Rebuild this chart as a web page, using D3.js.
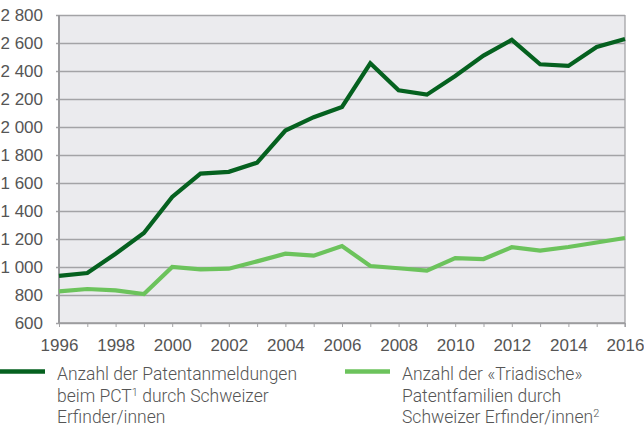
<!DOCTYPE html>
<html>
<head>
<meta charset="utf-8">
<script src="https://cdn.jsdelivr.net/npm/d3@7"></script>
<style>
  html, body { margin: 0; padding: 0; background: #fff; }
  svg { display: block; font-family: Roboto, "Open Sans", sans-serif; font-weight: 300; }
  .tick text { fill: #555; font-size: 17px; }
  .legend text { fill: #555; font-size: 17.5px; }
</style>
</head>
<body>
<svg id="chart" width="644" height="426"></svg>
<script>
const years = d3.range(1996, 2017);
const pctApplications = [936, 957, 1095, 1243, 1500, 1667, 1680, 1745, 1975, 2070, 2143, 2455, 2262, 2231, 2365, 2510, 2622, 2448, 2436, 2572, 2628];
const triadicFamilies = [826, 843, 833, 807, 1000, 983, 988, 1040, 1095, 1081, 1150, 1007, 991, 974, 1064, 1057, 1141, 1117, 1143, 1175, 1207];
const yTicks = [600, 800, 1000, 1200, 1400, 1600, 1800, 2000, 2200, 2400, 2600, 2800];
const xLabels = [1996, 1998, 2000, 2002, 2004, 2006, 2008, 2010, 2012, 2014, 2016];
const legendDark = ['Anzahl der Patentanmeldungen', ['beim PCT', '1', ' durch Schweizer'], 'Erfinder/innen'];
const legendLight = ['Anzahl der «Triadische»', 'Patentfamilien durch', ['Schweizer Erfinder/innen', '2', '']];

const svg = d3.select('#chart');
const margin = { left: 59, right: 19, top: 15, bottom: 103 };
const width = 644, height = 426;
const x = d3.scaleLinear().domain([1996, 2016]).range([margin.left, width - margin.right]);
const y = d3.scaleLinear().domain([600, 2800]).range([height - margin.bottom, margin.top]);

const grid = '#a3a3a6';
svg.append('rect').attr('x', x(1996)).attr('y', y(2800)).attr('width', x(2016) - x(1996)).attr('height', y(600) - y(2800)).attr('fill', '#ebebee');

// gridlines + y axis
const yAxis = svg.append('g').attr('transform', `translate(${x(1996)},0)`)
    .call(d3.axisLeft(y).tickValues(yTicks).tickSize(-(x(2016) - x(1996))).tickPadding(16).tickFormat(d => d3.format(',')(d).replace(',', ' ')));
yAxis.select('.domain').remove();
yAxis.selectAll('.tick line').attr('stroke', grid).attr('stroke-width', 1.3).attr('x1', -3);
yAxis.selectAll('.tick text').attr('dy', '0.35em');

// x axis
const xAxis = svg.append('g').attr('transform', `translate(0,${y(600)})`)
    .call(d3.axisBottom(x).tickValues(years).tickSize(4).tickPadding(6).tickFormat(d => xLabels.includes(d) ? d : ''));
xAxis.select('.domain').remove();
xAxis.selectAll('.tick line').attr('stroke', grid);
xAxis.selectAll('.tick text').attr('dy', 0).attr('y', 28);

// frame: left, right, bottom
svg.append('line').attr('x1', x(1996)).attr('x2', x(1996)).attr('y1', y(2800)).attr('y2', y(600)).attr('stroke', '#9a9a9d').attr('stroke-width', 2);
svg.append('line').attr('x1', x(2016)).attr('x2', x(2016)).attr('y1', y(2800)).attr('y2', y(600) + 4).attr('stroke', grid).attr('stroke-width', 1.3);
svg.append('line').attr('x1', x(1996)).attr('x2', x(2016)).attr('y1', y(600)).attr('y2', y(600)).attr('stroke', '#9a9a9d').attr('stroke-width', 1.5);

const line = d3.line().x((d, i) => x(years[i])).y(d => y(d));
svg.append('path').datum(triadicFamilies).attr('d', line).attr('fill', 'none').attr('stroke', '#6cc35c').attr('stroke-width', 4.2).attr('stroke-linejoin', 'miter');
svg.append('path').datum(pctApplications).attr('d', line).attr('fill', 'none').attr('stroke', '#05611f').attr('stroke-width', 4.2).attr('stroke-linejoin', 'miter');

// legend
const legend = svg.append('g').attr('class', 'legend');
const addLegend = (x0, x1, tx, color, lines) => {
    legend.append('line').attr('x1', x0).attr('x2', x1).attr('y1', 371.5).attr('y2', 371.5).attr('stroke', color).attr('stroke-width', 4.5);
    lines.forEach((l, i) => {
        const t = legend.append('text').attr('x', tx).attr('y', 380 + i * 21.7);
        if (Array.isArray(l)) {
            t.append('tspan').text(l[0]);
            t.append('tspan').attr('font-size', 11).attr('dy', -6).text(l[1]);
            t.append('tspan').attr('dy', 6).text(l[2]);
        } else t.text(l);
    });
};
addLegend(0, 45, 57, '#05611f', legendDark);
addLegend(345, 390, 402, '#6cc35c', legendLight);
</script>
</body>
</html>
